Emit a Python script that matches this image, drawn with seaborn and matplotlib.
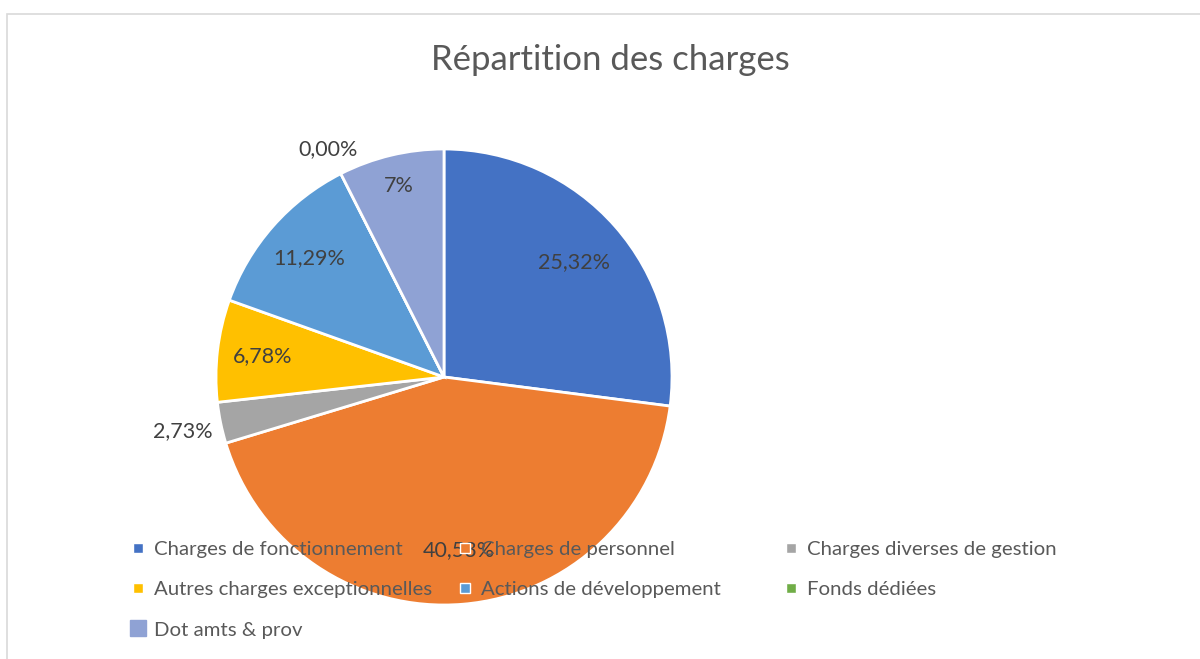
import numpy as np
import matplotlib
matplotlib.use("Agg")
import matplotlib.pyplot as plt
from matplotlib.lines import Line2D
from matplotlib.patches import Rectangle
import seaborn as sns

# Data
categories = ["Charges de fonctionnement", "Charges de personnel", "Charges diverses de gestion",
              "Autres charges exceptionnelles", "Actions de développement", "Fonds dédiées",
              "Dot amts & prov"]
values = [25.32, 40.53, 2.73, 6.78, 11.29, 0.0, 7.0]
value_labels = ["25,32%", "40,53%", "2,73%", "6,78%", "11,29%", "0,00%", "7%"]
colors = ["#4472C4", "#ED7D31", "#A5A5A5", "#FFC000", "#5B9BD5", "#70AD47", "#8FA2D4"]

sns.set_theme(style="white")
plt.rcParams["font.family"] = ["Lato", "DejaVu Sans"]

W, H = 1200, 659
fig = plt.figure(figsize=(W / 100, H / 100), dpi=100)

# chart border (cut off at right/bottom like the screenshot)
fig.patches.append(Rectangle((7 / W, -0.1), 1.2, (H - 14) / H + 0.1, transform=fig.transFigure,
                             fill=False, edgecolor="#D9D9D9", linewidth=1.2))

fig.text(610 / W, 1 - 60 / H, "Répartition des charges", ha="center", va="center",
         fontsize=25, color="#595959")

# pie
cx, cy, r = 444, 377, 228
ax = fig.add_axes([(cx - r) / W, (H - cy - r) / H, 2 * r / W, 2 * r / H])
wedges, _ = ax.pie(values, colors=colors, startangle=90, counterclock=False,
                   wedgeprops=dict(edgecolor="white", linewidth=2))
ax.set_xlim(-1, 1)
ax.set_ylim(-1, 1)
ax.axis("off")

# data labels, inside for big slices, outside for small ones
dist = [0.76, 0.76, 1.17, 0.8, 0.79, 1.12, 0.86]
for w, lab, d in zip(wedges, value_labels, dist):
    ang = np.deg2rad((w.theta1 + w.theta2) / 2)
    ax.text(d * np.cos(ang), d * np.sin(ang), lab, ha="center", va="center",
            fontsize=15.5, color="#404040")

# legend, three columns laid out like Excel
handles = [Line2D([], [], marker="s", linestyle="none", markersize=7,
                  markerfacecolor=c, markeredgecolor="white", markeredgewidth=1) for c in colors]
handles[-1] = Line2D([], [], marker="s", linestyle="none", markersize=11,
                     markerfacecolor=colors[-1], markeredgecolor=colors[-1])
col_x = [132, 459, 785]
for k, x in enumerate(col_x):
    idx = list(range(k, len(categories), 3))
    leg = fig.legend([handles[i] for i in idx], [categories[i] for i in idx],
                     loc="upper left", bbox_to_anchor=(x / W, 1 - 541 / H),
                     frameon=False, fontsize=14.7, labelcolor="#595959",
                     handlelength=0.6, handletextpad=0.5, labelspacing=1.12,
                     borderpad=0, borderaxespad=0)

fig.savefig("out.png", dpi=100)
